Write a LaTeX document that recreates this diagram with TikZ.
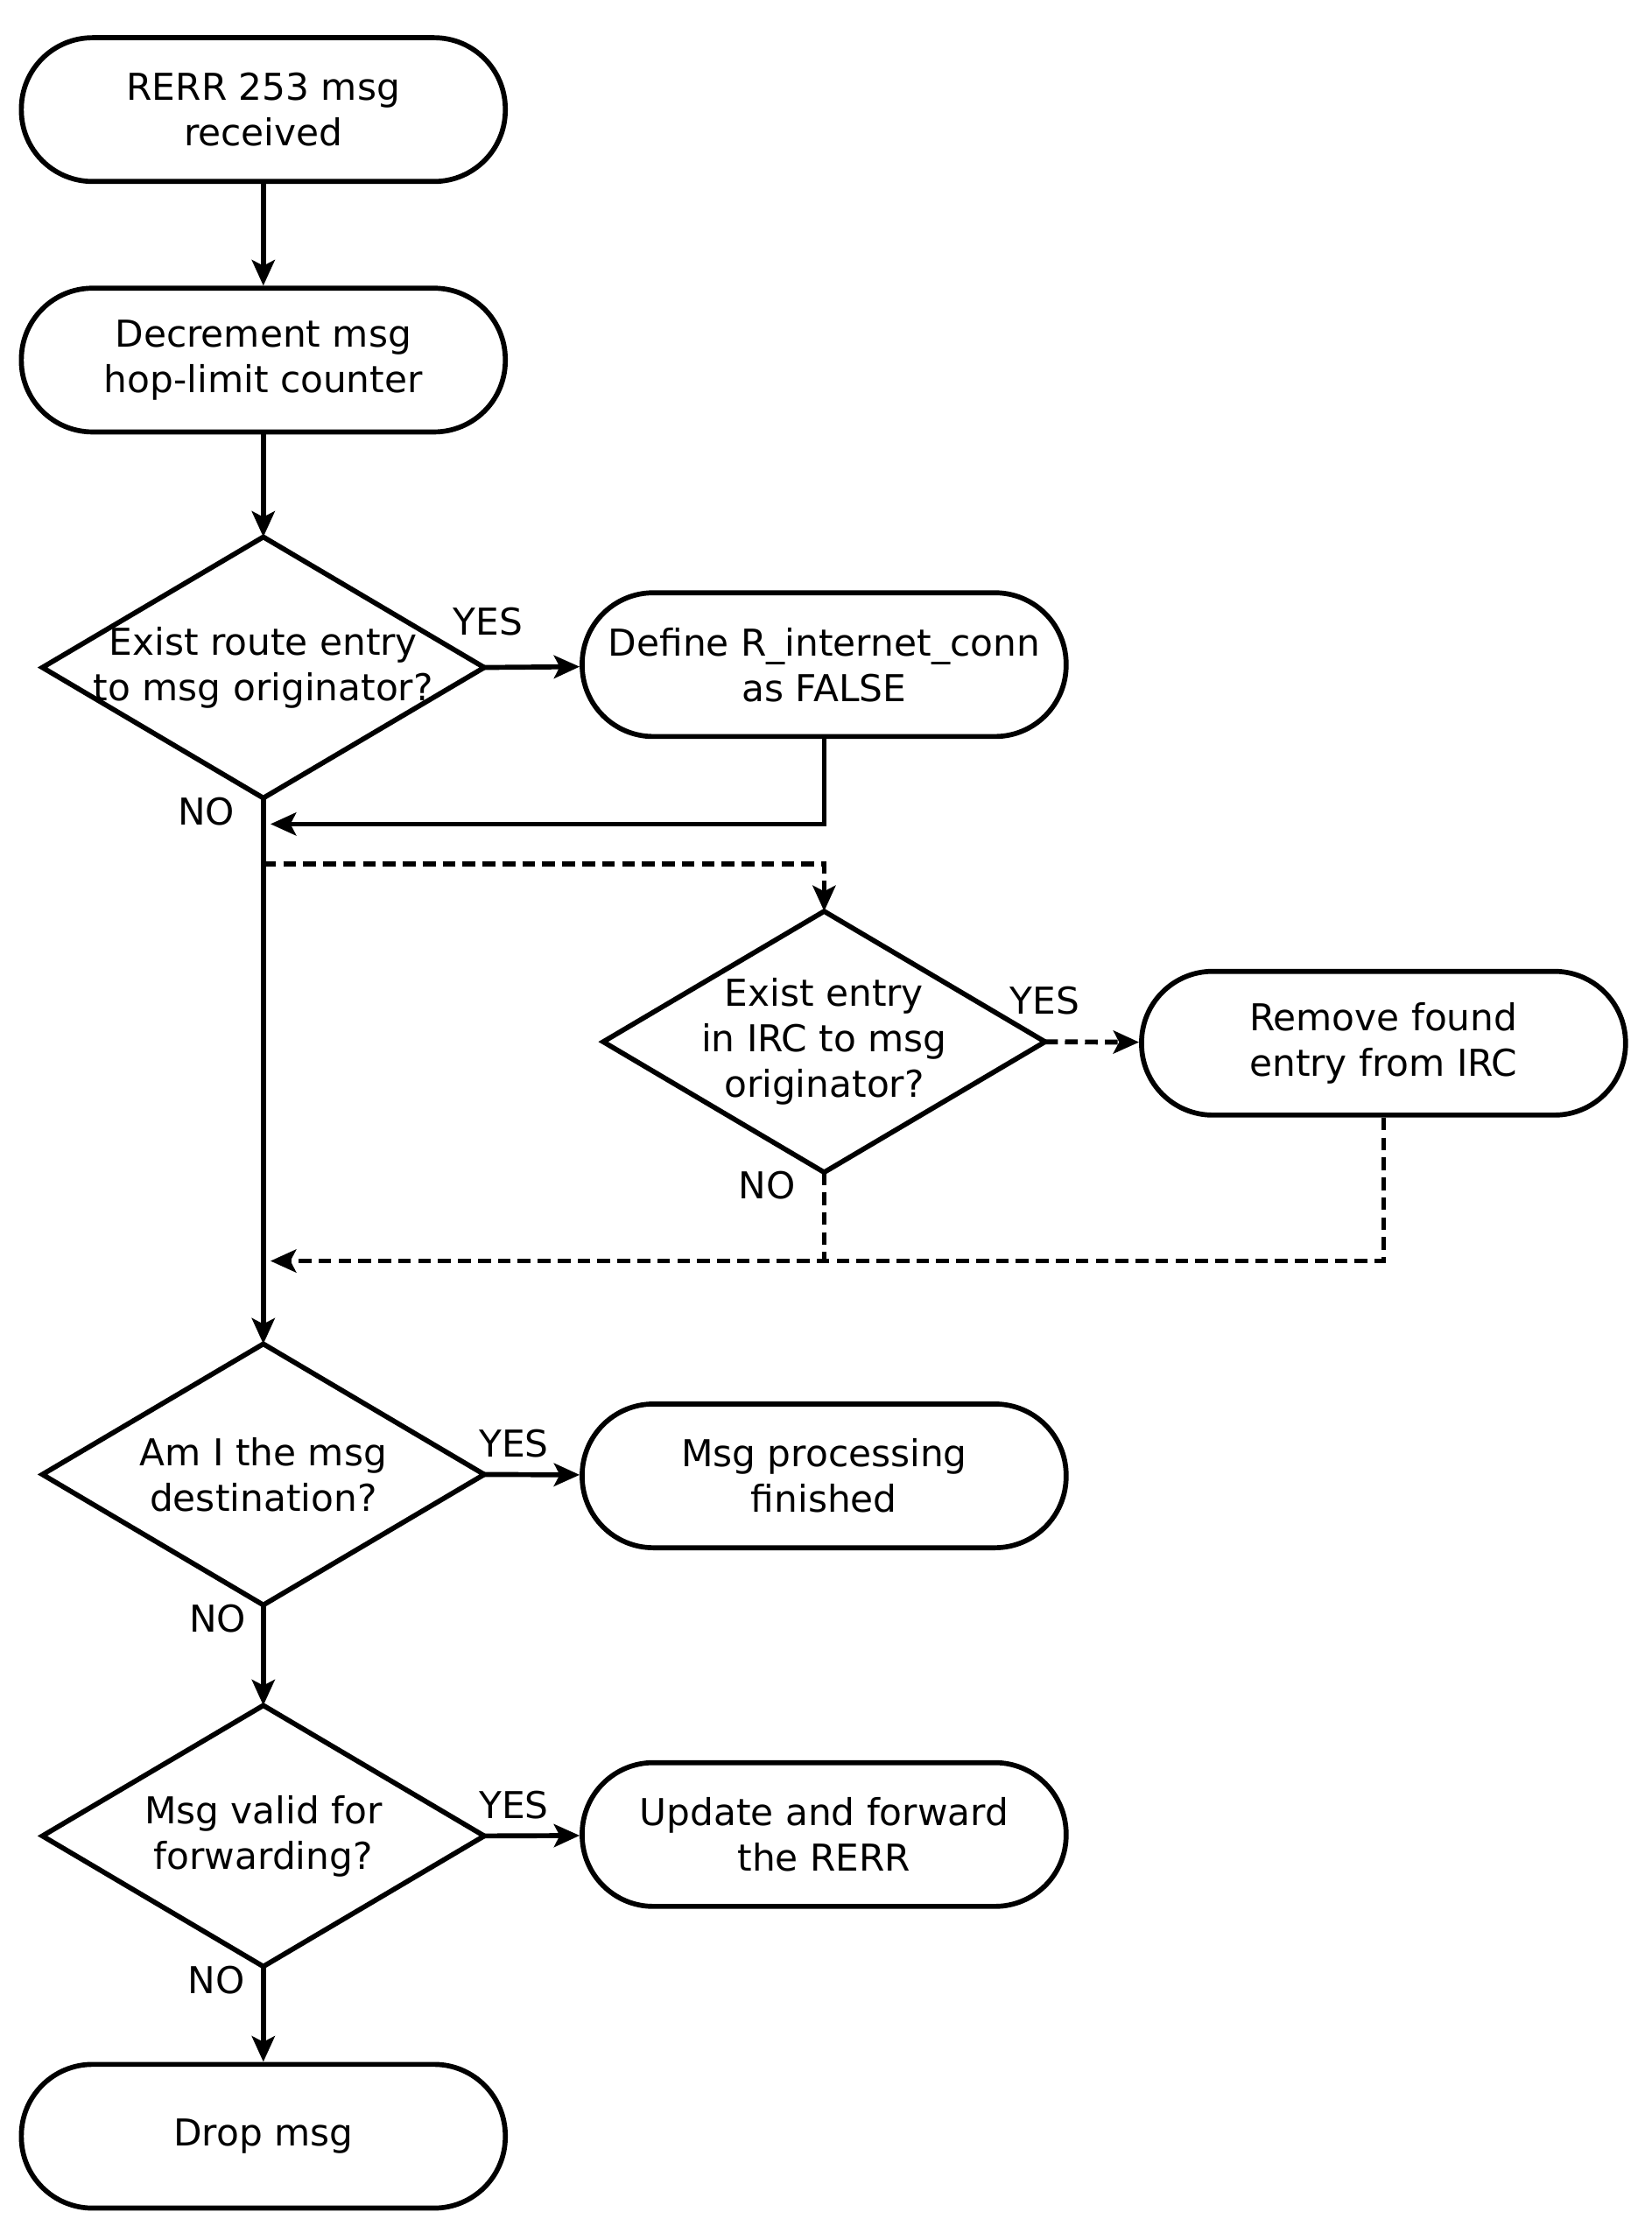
\documentclass[tikz,border=0pt]{standalone}
\usepackage{fontspec}
\setmainfont{DejaVu Sans}
\usetikzlibrary{shapes.geometric,arrows.meta}
\begin{document}
\begin{tikzpicture}[x=1pt,y=-1pt,
  every node/.style={font=\fontsize{26}{32}\selectfont},
  term/.style={draw,line width=3.5pt,rounded corners=50pt,minimum width=340pt,minimum height=101pt,align=center,inner sep=0pt},
  dec/.style={minimum width=310pt,minimum height=183pt,inner sep=0pt,align=center},
  ln/.style={line width=3.5pt},
  ar/.style={line width=3.5pt,-{Stealth[length=18pt,width=16pt,inset=4pt]}},
  da/.style={dash pattern=on 9pt off 5pt},
  lab/.style={inner sep=0pt}]
\useasboundingbox (0,0) rectangle (1160,1569);
\node[term] (start) at (185,77) {RERR 253 msg\\received};
\node[term] (dec1) at (185,253) {Decrement msg\\hop-limit counter};
\node[dec] (d1) at (185,469) {Exist route entry\\to msg originator?};
\node[term] (def) at (579,467) {Define R\_internet\_conn\\as FALSE};
\node[dec] (d2) at (579,732) {Exist entry\\in IRC to msg\\originator?};
\node[term] (rem) at (972,733) {Remove found\\entry from IRC};
\node[dec] (d3) at (185,1036) {Am I the msg\\destination?};
\node[term] (fin) at (579,1037) {Msg processing\\finished};
\node[dec] (d4) at (185,1290) {Msg valid for\\forwarding?};
\node[term] (upd) at (579,1289) {Update and forward\\the RERR};
\node[term] (drop) at (185,1501) {Drop msg};
\foreach \d in {d1,d2,d3,d4}
  \draw[ln,line join=miter] (\d.north) -- (\d.east) -- (\d.south) -- (\d.west) -- cycle;
\node[lab] (y1) at (343,437) {YES};
\node[lab] (n1) at (145,570) {NO};
\node[lab] (y2) at (734,703) {YES};
\node[lab] (n2) at (539,833) {NO};
\node[lab] (y3) at (361,1014) {YES};
\node[lab] (n3) at (153,1137) {NO};
\node[lab] (y4) at (361,1268) {YES};
\node[lab] (n4) at (152,1391) {NO};
\coordinate (j1) at (190,579);
\coordinate (j2) at (190,886);
\draw[ar] (start) -- (dec1);
\draw[ar] (dec1) -- (d1.north);
\draw[ar] (d1.east) -- (def);
\draw[ar] (def.south) |- (j1);
\draw[ar] (d1.south) -- (d3.north);
\draw[ar,da] (185,607) -| (d2.north);
\draw[ar,da] (d2.east) -- (rem);
\draw[ln,da] (d2.south) -- (579,886);
\draw[ar,da] (rem.south) |- (j2);
\draw[ar] (d3.east) -- (fin);
\draw[ar] (d3.south) -- (d4.north);
\draw[ar] (d4.east) -- (upd);
\draw[ar] (d4.south) -- (drop);
\end{tikzpicture}
\end{document}
